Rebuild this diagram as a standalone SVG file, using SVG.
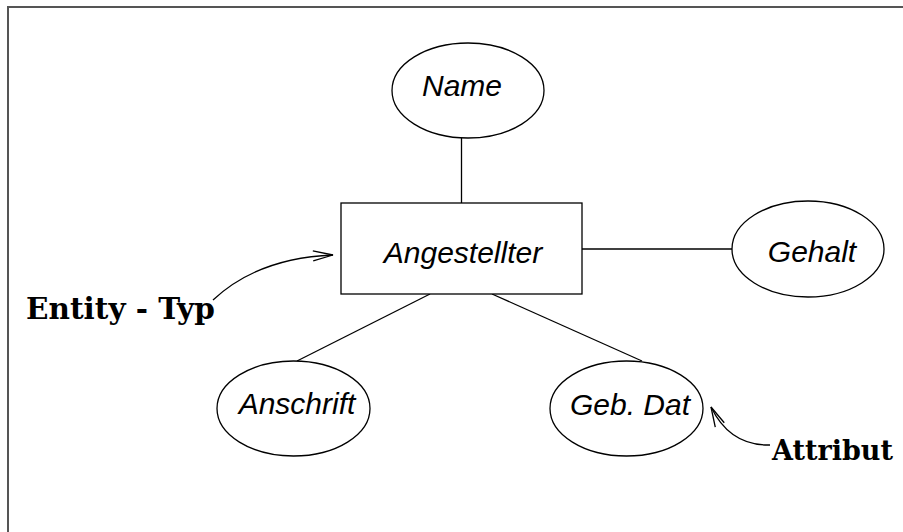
<svg xmlns="http://www.w3.org/2000/svg" width="903" height="532" viewBox="0 0 903 532">
<defs>
<style>
.shape{fill:#fff;stroke:#000;stroke-width:1.3}
.conn{fill:none;stroke:#000;stroke-width:1.3}
.lbl{font-family:"Liberation Sans",Arial,sans-serif;font-style:italic;font-size:30px;fill:#000;text-anchor:middle}
.note{font-family:"DejaVu Serif",serif;font-weight:bold;fill:#000}
</style>
<marker id="open" viewBox="0 0 22 12" refX="21" refY="6" markerWidth="22" markerHeight="12" markerUnits="userSpaceOnUse" orient="auto">
<path d="M1,1 L21,6 L1,11" fill="none" stroke="#000" stroke-width="1.3"/>
</marker>
</defs>
<rect width="903" height="532" fill="#fff"/>
<path d="M8,532 L8,7 L910,7" fill="none" stroke="#555" stroke-width="2"/>
<g id="connectors">
<line class="conn" x1="461.5" y1="138" x2="461.5" y2="203"/>
<line class="conn" x1="582" y1="249" x2="732" y2="249"/>
<line class="conn" x1="430" y1="294" x2="297" y2="361"/>
<line class="conn" x1="492" y1="294" x2="642" y2="361"/>
<path class="conn" d="M213,300 Q258,258 333,255" marker-end="url(#open)"/>
<path class="conn" d="M770,445 Q730,446 711,407" marker-end="url(#open)"/>
</g>
<g id="angestellter">
<rect class="shape" x="341" y="203" width="241" height="91"/>
<text class="lbl" x="463" y="263">Angestellter</text>
</g>
<g id="name">
<ellipse class="shape" cx="468" cy="90.5" rx="76" ry="47.5"/>
<text class="lbl" x="462" y="96">Name</text>
</g>
<g id="gehalt">
<ellipse class="shape" cx="808" cy="249" rx="76" ry="48"/>
<text class="lbl" x="812" y="262">Gehalt</text>
</g>
<g id="anschrift">
<ellipse class="shape" cx="293.5" cy="408.5" rx="76.5" ry="47.5"/>
<text class="lbl" x="297" y="414">Anschrift</text>
</g>
<g id="gebdat">
<ellipse class="shape" cx="626.5" cy="408.5" rx="76.5" ry="47.5"/>
<text class="lbl" x="630" y="415">Geb. Dat</text>
</g>
<g id="entity-typ">
<text class="note" x="26" y="319" font-size="29.5">Entity - Typ</text>
</g>
<g id="attribut">
<text class="note" x="772" y="460" font-size="27">Attribut</text>
</g>
</svg>
